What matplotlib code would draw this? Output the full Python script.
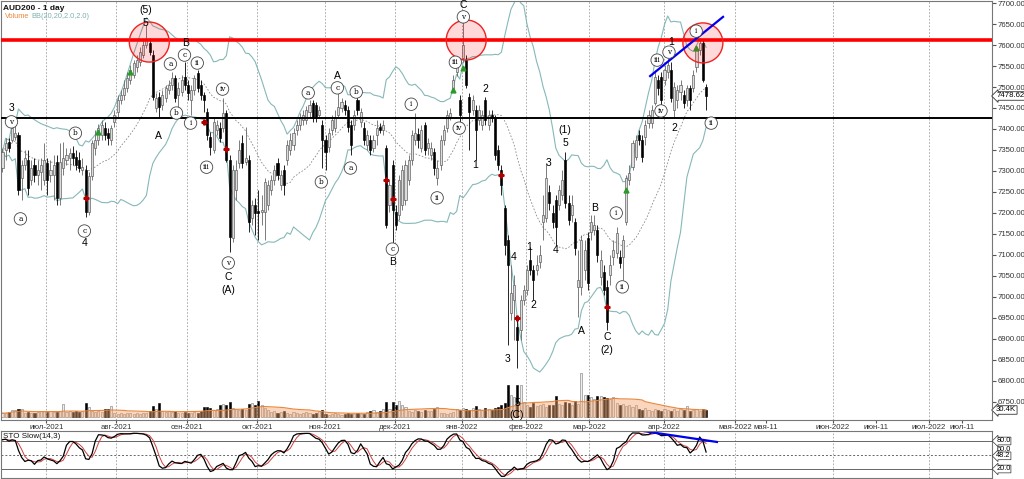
#%%
import numpy as np
import pandas as pd
import matplotlib
matplotlib.use('Agg')
import matplotlib.pyplot as plt
from matplotlib.patches import Ellipse

#%% daily bars AUD200
op = [7307, 7350, 7369, 7374, 7381, 7386, 7283, 7314, 7326, 7279,
      7314, 7290, 7297, 7279, 7319, 7290, 7290, 7321, 7236, 7307,
      7326, 7331, 7343, 7333, 7326, 7302, 7302, 7202, 7288, 7355,
      7374, 7386, 7402, 7390, 7374, 7417, 7440, 7469, 7481, 7498,
      7517, 7528, 7548, 7559, 7576, 7600, 7605, 7576, 7450, 7476,
      7457, 7474, 7493, 7505, 7521, 7481, 7488, 7524, 7505, 7469,
      7493, 7533, 7505, 7481, 7440, 7381, 7350, 7398, 7402, 7402,
      7438, 7326, 7140, 7255, 7319, 7367, 7321, 7326, 7188, 7219,
      7205, 7202, 7202, 7219, 7255, 7279, 7319, 7267, 7302, 7326,
      7350, 7362, 7398, 7409, 7421, 7421, 7440, 7462, 7457, 7433,
      7409, 7374, 7357, 7398, 7402, 7433, 7450, 7457, 7445, 7409,
      7409, 7469, 7417, 7402, 7362, 7374, 7355, 7386, 7405, 7398,
      7355, 7219, 7314, 7202, 7195, 7219, 7231, 7279, 7326, 7374,
      7388, 7355, 7409, 7355, 7338, 7345, 7283, 7314, 7374, 7402,
      7428, 7498, 7536, 7469, 7569, 7564, 7476, 7445, 7445, 7421,
      7409, 7469, 7409, 7433, 7428, 7350, 7302, 7212, 7136, 6962,
      6993, 6929, 6921, 6993, 7017, 7088, 7064, 7064, 7083, 7179,
      7188, 7250, 7200, 7231, 7219, 7243, 7326, 7224, 7195, 7179,
      7024, 7024, 7064, 7140, 7155, 7159, 7159, 7048, 7059, 7024,
      7052, 7095, 7105, 7095, 7095, 7179, 7279, 7309, 7333, 7386,
      7374, 7381, 7414, 7414, 7462, 7517, 7524, 7517, 7536, 7540,
      7445, 7469, 7488, 7481, 7469, 7498, 7498, 7548, 7588, 7605,
      7500]
hi = [7355, 7379, 7379, 7412, 7407, 7393, 7326, 7350, 7350, 7326,
      7331, 7326, 7331, 7367, 7331, 7326, 7338, 7338, 7367, 7369,
      7355, 7355, 7359, 7350, 7345, 7331, 7314, 7297, 7374, 7398,
      7412, 7421, 7417, 7402, 7409, 7445, 7481, 7493, 7517, 7536,
      7552, 7564, 7576, 7595, 7612, 7648, 7617, 7588, 7486, 7488,
      7493, 7505, 7517, 7536, 7528, 7512, 7528, 7559, 7517, 7505,
      7528, 7540, 7517, 7488, 7450, 7393, 7426, 7421, 7417, 7474,
      7445, 7338, 7314, 7326, 7374, 7386, 7405, 7338, 7231, 7236,
      7255, 7243, 7283, 7279, 7290, 7314, 7331, 7302, 7314, 7374,
      7390, 7402, 7421, 7438, 7445, 7455, 7469, 7469, 7464, 7455,
      7421, 7386, 7402, 7433, 7445, 7488, 7474, 7469, 7455, 7421,
      7445, 7476, 7450, 7417, 7398, 7386, 7386, 7421, 7414, 7421,
      7362, 7279, 7326, 7219, 7290, 7314, 7326, 7338, 7398, 7438,
      7402, 7409, 7417, 7379, 7369, 7355, 7326, 7386, 7409, 7445,
      7450, 7528, 7569, 7481, 7664, 7576, 7486, 7481, 7457, 7457,
      7445, 7476, 7445, 7445, 7433, 7362, 7314, 7219, 7148, 7076,
      7052, 6945, 7005, 7029, 7076, 7119, 7076, 7100, 7124, 7243,
      7319, 7267, 7219, 7243, 7267, 7302, 7345, 7243, 7243, 7188,
      7112, 7148, 7136, 7155, 7195, 7195, 7171, 7112, 7076, 7040,
      7100, 7136, 7167, 7112, 7148, 7290, 7314, 7374, 7386, 7398,
      7386, 7421, 7445, 7457, 7540, 7528, 7536, 7552, 7569, 7559,
      7512, 7505, 7517, 7493, 7505, 7505, 7540, 7593, 7617, 7612,
      7507]
lo = [7297, 7326, 7345, 7369, 7374, 7243, 7231, 7302, 7243, 7267,
      7274, 7267, 7255, 7267, 7243, 7274, 7231, 7219, 7219, 7290,
      7314, 7302, 7314, 7302, 7297, 7290, 7190, 7195, 7279, 7338,
      7362, 7374, 7374, 7362, 7362, 7405, 7426, 7459, 7469, 7488,
      7507, 7521, 7536, 7550, 7569, 7593, 7576, 7469, 7440, 7426,
      7445, 7464, 7483, 7493, 7464, 7445, 7478, 7493, 7469, 7433,
      7481, 7488, 7469, 7440, 7374, 7338, 7343, 7386, 7369, 7393,
      7321, 7107, 7131, 7231, 7307, 7307, 7314, 7155, 7171, 7148,
      7136, 7171, 7136, 7207, 7243, 7267, 7279, 7255, 7243, 7314,
      7338, 7350, 7386, 7398, 7409, 7412, 7426, 7417, 7417, 7426,
      7307, 7302, 7345, 7386, 7393, 7426, 7440, 7433, 7393, 7338,
      7398, 7433, 7405, 7362, 7350, 7338, 7345, 7362, 7390, 7386,
      7164, 7202, 7117, 7159, 7183, 7207, 7219, 7267, 7314, 7362,
      7355, 7345, 7338, 7338, 7326, 7290, 7267, 7302, 7362, 7393,
      7421, 7488, 7526, 7414, 7559, 7498, 7350, 7433, 7326, 7409,
      7398, 7409, 7398, 7417, 7326, 7302, 7243, 7100, 6886, 6945,
      6898, 6831, 6898, 6981, 7005, 7052, 6993, 7052, 7069, 7136,
      7179, 7207, 7164, 7124, 7207, 7231, 7212, 7171, 7179, 7100,
      6952, 7005, 7040, 7017, 7136, 7148, 7083, 7029, 7005, 6921,
      7029, 7076, 7093, 7069, 7040, 7171, 7267, 7302, 7326, 7362,
      7321, 7362, 7402, 7402, 7457, 7481, 7457, 7505, 7521, 7464,
      7426, 7450, 7469, 7450, 7455, 7445, 7488, 7536, 7576, 7512,
      7445]
cl = [7345, 7367, 7355, 7402, 7390, 7255, 7314, 7331, 7259, 7307,
      7290, 7302, 7314, 7326, 7279, 7302, 7314, 7236, 7321, 7331,
      7338, 7343, 7331, 7314, 7307, 7309, 7202, 7288, 7367, 7374,
      7402, 7409, 7386, 7379, 7402, 7433, 7469, 7481, 7498, 7521,
      7540, 7557, 7564, 7583, 7600, 7612, 7583, 7476, 7474, 7452,
      7481, 7498, 7505, 7521, 7474, 7498, 7517, 7505, 7486, 7493,
      7521, 7498, 7481, 7469, 7386, 7357, 7417, 7409, 7379, 7438,
      7326, 7143, 7302, 7302, 7350, 7319, 7331, 7179, 7219, 7200,
      7200, 7207, 7274, 7267, 7279, 7302, 7290, 7290, 7267, 7362,
      7374, 7390, 7409, 7426, 7433, 7445, 7457, 7426, 7426, 7445,
      7374, 7345, 7390, 7421, 7428, 7452, 7464, 7445, 7405, 7362,
      7433, 7445, 7440, 7374, 7386, 7350, 7374, 7402, 7398, 7409,
      7171, 7267, 7207, 7171, 7279, 7302, 7314, 7326, 7386, 7390,
      7374, 7398, 7350, 7367, 7355, 7307, 7307, 7374, 7398, 7433,
      7438, 7517, 7557, 7433, 7600, 7505, 7440, 7469, 7398, 7445,
      7433, 7421, 7433, 7426, 7338, 7314, 7267, 7124, 7076, 7010,
      7029, 6898, 6993, 7017, 7064, 7064, 7040, 7076, 7100, 7195,
      7283, 7224, 7179, 7167, 7255, 7279, 7224, 7183, 7219, 7117,
      7040, 7136, 7112, 7033, 7179, 7171, 7100, 7088, 7017, 6940,
      7076, 7112, 7152, 7081, 7136, 7283, 7295, 7367, 7374, 7374,
      7333, 7409, 7433, 7445, 7524, 7498, 7469, 7540, 7552, 7474,
      7500, 7493, 7505, 7462, 7498, 7469, 7528, 7588, 7605, 7517,
      7478.62]
# volume, thousands
vol = [17, 17, 22, 30, 30, 34, 34, 17, 22, 17,
       17, 22, 26, 26, 22, 26, 22, 22, 26, 56,
       22, 26, 22, 26, 22, 26, 60, 43, 26, 22,
       26, 22, 34, 34, 47, 17, 13, 17, 13, 17,
       17, 13, 17, 13, 17, 17, 26, 47, 34, 60,
       26, 22, 26, 22, 26, 17, 17, 22, 17, 17,
       22, 17, 26, 43, 43, 39, 30, 34, 52, 56,
       52, 65, 39, 34, 30, 34, 30, 56, 60, 52,
       69, 52, 39, 30, 22, 26, 17, 22, 26, 17,
       13, 22, 17, 13, 17, 22, 17, 13, 17, 26,
       30, 13, 9, 13, 17, 13, 9, 13, 17, 13,
       13, 17, 13, 13, 22, 26, 30, 22, 26, 34,
       65, 34, 65, 52, 69, 52, 43, 26, 22, 30,
       26, 22, 30, 26, 26, 34, 43, 17, 17, 13,
       17, 22, 34, 30, 39, 34, 30, 39, 47, 34,
       30, 39, 34, 30, 39, 43, 52, 60, 138, 95,
       86, 138, 138, 65, 52, 43, 60, 47, 52, 56,
       43, 52, 52, 90, 56, 52, 65, 60, 52, 69,
       56, 189, 95, 95, 86, 77, 90, 90, 86, 82,
       77, 86, 60, 52, 56, 47, 52, 43, 52, 34,
       30, 39, 30, 26, 34, 30, 26, 34, 30, 26,
       34, 26, 34, 30, 47, 26, 30, 34, 26, 34,
       30.4]

month_pos = [13.75, 35.6, 57.8, 79.7, 100.9, 122.8, 143.75, 163.75, 183.4, 206.9,
             229.1, 238.75, 259.7, 273.1, 289.7, 300]
month_lbl = ['июл-2021', 'авг-2021', 'сен-2021', 'окт-2021', 'ноя-2021', 'дек-2021',
             'янв-2022', 'фев-2022', 'мар-2022', 'апр-2022', 'мая-2022', 'мая-11',
             'июн-2022', 'июн-11', 'июл-2022', 'июл-11']

resistance = 7612
support = 7426

# elliott wave marks (text, bar position, price)
circled = [('v', 2.8, 7417), ('a', 5.6, 7186), ('b', 22.8, 7390), ('c', 25.6, 7157),
           ('a', 52.5, 7555), ('b', 54.4, 7438), ('c', 56.9, 7576), ('i', 58.8, 7414),
           ('ii', 60.9, 7557), ('iii', 63.8, 7309), ('iv', 68.8, 7495), ('v', 70.6, 7081),
           ('a', 95.6, 7486), ('b', 99.7, 7274), ('c', 104.7, 7498), ('a', 108.8, 7307),
           ('b', 110.6, 7488), ('c', 121.9, 7114), ('i', 127.8, 7459), ('ii', 135.9, 7236),
           ('iii', 141.6, 7559), ('iv', 142.8, 7402), ('v', 144.1, 7667), ('i', 191.9, 7200),
           ('ii', 193.8, 7024), ('iii', 204.7, 7564), ('iv', 205.9, 7443), ('v', 208.4, 7583),
           ('i', 216.9, 7633), ('ii', 221.6, 7414)]
plain = [('3', 2.8, 7450), ('4', 25.6, 7129), ('(5)', 44.7, 7683), ('5', 44.7, 7652),
         ('A', 48.8, 7383), ('B', 57.2, 7605), ('C', 70.6, 7048), ('(A)', 70.6, 7017),
         ('A', 104.7, 7526), ('B', 121.9, 7083), ('C', 144.1, 7695), ('1', 147.8, 7314),
         ('2', 150.9, 7495), ('3', 157.8, 6852), ('4', 159.7, 7095), ('5', 160.9, 6748),
         ('(C)', 160.9, 6718), ('1', 164.7, 7119), ('2', 165.9, 6981), ('3', 170.6, 7319),
         ('4', 173.1, 7112), ('(1)', 175.9, 7398), ('5', 175.9, 7367), ('A', 180.9, 6919),
         ('B', 185, 7212), ('C', 189.1, 6905), ('(2)', 189.1, 6874), ('1', 209.1, 7607),
         ('2', 210, 7402)]

zones = [(45.9, 7607), (145, 7612), (219, 7605)]
trend_px = ([202.5, 225.3], [7526, 7667])
trend_sto = ([200.3, 223.4], [101.4, 77.9])

buy_bar = [30, 40, 141, 144, 195, 217]
buy_px = [7393, 7536, 7493, 7545, 7255, 7593]
sell_bar = [26, 63, 70, 120, 122, 156, 161, 189]
sell_px = [7236, 7417, 7352, 7279, 7233, 7290, 6950, 6976]

#%% indicators
df = pd.DataFrame({'o': op, 'h': hi, 'l': lo, 'c': cl, 'v': vol})
x = np.arange(len(df))
mid = df.c.rolling(20, min_periods=1).mean()
sd = df.c.rolling(20, min_periods=1).std(ddof=0)
bb_up, bb_dn = mid + 2 * sd, mid - 2 * sd
vol_ma = df.v.rolling(20, min_periods=1).mean()
ll = df.l.rolling(14, min_periods=1).min()
hh = df.h.rolling(14, min_periods=1).max()
fast_k = 100 * (df.c - ll) / (hh - ll)
slow_k = fast_k.rolling(3, min_periods=1).mean()
slow_d = slow_k.rolling(3, min_periods=1).mean()

#%% figure
W, H = 1024, 479
def box(x0, y0, x1, y1):
    return [x0 / W, 1 - y1 / H, (x1 - x0) / W, (y1 - y0) / H]

FS = 5.6
fnt = 'Liberation Sans'
fig = plt.figure(figsize=(W / 100, H / 100), dpi=100)
ax = fig.add_axes(box(0.5, 0.5, 992, 420))
axv = fig.add_axes(box(0.5, 0.5, 992, 420), sharex=ax)
axs = fig.add_axes(box(0.5, 431, 992, 478), sharex=ax)
axv.set_zorder(ax.get_zorder() - 1)
ax.patch.set_visible(False)
axv.axis('off')
axv.set_ylim(-13, 1806)

ax.set_xlim(-0.625, 309.4)
ax.set_ylim(6707, 7706)

grid_pos = [p for p, s in zip(month_pos, month_lbl) if not s.endswith('-11')]
for a in (ax, axs):
    for p in grid_pos:
        a.axvline(p, color='#a0a0a0', lw=0.6, ls=(0, (2, 2)), zorder=0)
    for s in a.spines.values():
        s.set_color('#777')
        s.set_linewidth(0.8)

# volume
upv = df.c >= df.o
axv.bar(x[upv], df.v[upv], width=0.65, color='#eeeeee', edgecolor='#777', lw=0.4)
axv.bar(x[~upv], df.v[~upv], width=0.65, color='black', edgecolor='black', lw=0.4)
axv.fill_between(x, 0, vol_ma, color='#f2a66e', alpha=0.45, lw=0)
axv.plot(x, vol_ma, color='#e8863c', lw=0.8)

# bollinger
ax.plot(x, bb_up, color='#86b8b8', lw=0.8, zorder=1)
ax.plot(x, bb_dn, color='#86b8b8', lw=0.8, zorder=1)
ax.plot(x, mid, color='#8a8a8a', lw=0.6, ls=(0, (2, 2)), zorder=1)

# candles
up = (df.c >= df.o).values
ax.vlines(x[up], df.l[up], df.h[up], color='#666', lw=0.6, zorder=2)
ax.vlines(x[~up], df.l[~up], df.h[~up], color='black', lw=0.6, zorder=2)
ax.bar(x[up], (df.c - df.o)[up], bottom=df.o[up], width=0.65,
       color='#dcdcdc', edgecolor='#555', lw=0.45, zorder=3)
ax.bar(x[~up], (df.o - df.c)[~up], bottom=df.c[~up], width=0.65,
       color='black', edgecolor='black', lw=0.45, zorder=3)

ax.plot(buy_bar, buy_px, ls='none', marker='^', ms=3.5, color='#2b9a2b', zorder=4)
ax.plot(sell_bar, sell_px, ls='none', marker='P', ms=3.5, color='#b00000', zorder=4)

# levels, zones, trendlines
ax.axhline(resistance, color='#ff0000', lw=2.6, zorder=5)
ax.axhline(support, color='black', lw=1.4, zorder=5)
for zx, zy in zones:
    ax.add_patch(Ellipse((zx, zy), 40 / 3.2, 40 / 0.42, fc=(1, 0, 0, 0.15),
                         ec='#ee2222', lw=1.0, zorder=6))
ax.plot(*trend_px, color='#0000ee', lw=1.6, zorder=7)

for s, px, py in circled:
    ax.text(px, py, s, ha='center', va='center', fontsize=5.3, family='DejaVu Serif',
            zorder=8, bbox=dict(boxstyle='circle,pad=0.3', fc='white', ec='#444', lw=0.6))
for s, px, py in plain:
    ax.text(px, py, s, ha='center', va='center', fontsize=7.5, family=fnt, zorder=8)

# price axis
ax.yaxis.tick_right()
ax.set_yticks(np.arange(6750, 7701, 50))
ax.yaxis.set_major_formatter(matplotlib.ticker.FormatStrFormatter('%.2f'))
ax.tick_params(axis='y', labelsize=FS, labelcolor='#333', length=3, color='#555', pad=1)
ax.set_xticks(month_pos)
ax.set_xticklabels(month_lbl)
ax.tick_params(axis='x', labelsize=FS, labelcolor='#333', length=2, color='#555', pad=1)
for t in ax.get_xticklabels() + ax.get_yticklabels():
    t.set_family(fnt)
ax.annotate('7478.62', xy=(1, cl[-1]), xycoords=('axes fraction', 'data'),
            xytext=(3, 0), textcoords='offset points', va='center', fontsize=FS, family=fnt,
            bbox=dict(boxstyle='larrow,pad=0.1', fc='white', ec='#333', lw=0.6))
axv.annotate('30.4K', xy=(1, vol[-1]), xycoords=('axes fraction', 'data'),
             xytext=(3, 0), textcoords='offset points', va='center', fontsize=FS, family=fnt,
             bbox=dict(boxstyle='larrow,pad=0.1', fc='white', ec='#333', lw=0.6),
             annotation_clip=False)

# stochastic
axs.set_ylim(0.7, 101.4)
axs.axhline(80, color='#666', lw=0.7)
axs.axhline(20, color='#666', lw=0.7)
axs.axhline(50, color='#666', lw=0.7, ls=(0, (2, 2)))
axs.plot(x, slow_d, color='#d04040', lw=0.7)
axs.plot(x, slow_k, color='black', lw=0.9)
axs.plot(*trend_sto, color='#0000ee', lw=1.6)
axs.set_yticks([])
axs.tick_params(axis='x', labelbottom=False, length=0)
for val, txt in [(80, '80.0'), (61, '60.0'), (48.2, '48.2'), (20, '20.0')]:
    axs.annotate(txt, xy=(1, val), xycoords=('axes fraction', 'data'), xytext=(3, 0),
                 textcoords='offset points', va='center', fontsize=FS - 0.3, family=fnt,
                 bbox=dict(boxstyle='larrow,pad=0.05', fc='white', ec='#333', lw=0.5)
                 if txt != '60.0' else None, annotation_clip=False)

fig.text(3 / W, 1 - 8 / H, 'AUD200 - 1 day', fontsize=6, va='center', color='#111',
         weight='bold', family=fnt)
fig.text(5 / W, 1 - 17 / H, 'Volume', fontsize=5.3, va='center', color='#e8863c', family=fnt)
fig.text(31 / W, 1 - 17 / H, 'BB(20,20,2.0,2.0)', fontsize=5.3, va='center', color='#7fb0b0',
         family=fnt)
fig.text(3 / W, 1 - 437 / H, 'STO Slow(14,3)', fontsize=5.8, va='center', color='#111',
         family=fnt)

fig.savefig('out.png', dpi=100)
